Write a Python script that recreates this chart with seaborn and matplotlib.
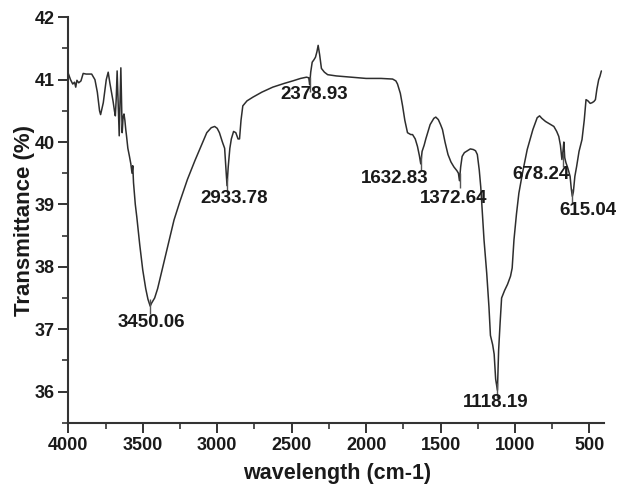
import matplotlib
matplotlib.use("Agg")
import matplotlib.pyplot as plt
from matplotlib.ticker import MultipleLocator
import seaborn as sns
import pandas as pd

# ---- data ----
wavenumber = [
    4000, 3985, 3970, 3958, 3950, 3942, 3930, 3915, 3900, 3880, 3843, 3821, 3805,
    3790, 3783, 3765, 3745, 3732, 3721, 3710, 3699, 3690, 3684, 3678, 3672, 3665,
    3658, 3652, 3647, 3642, 3638, 3632, 3626, 3620, 3614, 3609, 3600, 3590, 3580,
    3572, 3567, 3562, 3550, 3540, 3520, 3500, 3480, 3465, 3450, 3440, 3420, 3400,
    3380, 3350, 3320, 3290, 3250, 3200, 3150, 3100, 3070, 3040, 3017, 3000, 2985,
    2965, 2950, 2942, 2934, 2926, 2915, 2905, 2890, 2875, 2860, 2850, 2840, 2828,
    2800, 2760, 2700, 2627, 2550, 2493, 2440, 2400, 2385, 2379, 2372, 2362, 2350,
    2340, 2330, 2322, 2312, 2300, 2280, 2258, 2200, 2100, 2000, 1900, 1822, 1800,
    1789, 1770, 1755, 1740, 1722, 1700, 1688, 1670, 1655, 1642, 1633, 1624, 1610,
    1599, 1570, 1545, 1532, 1515, 1500, 1487, 1470, 1450, 1430, 1410, 1390, 1380,
    1373, 1365, 1355, 1340, 1320, 1300, 1280, 1265, 1253, 1240, 1230, 1220, 1208,
    1190, 1175, 1165, 1150, 1140, 1130, 1118, 1110, 1100, 1090, 1070, 1050, 1030,
    1019, 1007, 990, 974, 950, 918, 880, 851, 835, 820, 795, 760, 739, 720, 706,
    695, 685, 678, 672, 666, 658, 645, 630, 622, 615, 608, 598, 586, 570, 550,
    535, 523, 510, 495, 483, 470, 460, 450, 438, 430, 420,
]
transmittance = [
    41.10, 41.00, 40.93, 40.96, 40.88, 40.99, 40.95, 40.98, 41.10, 41.09, 41.09, 41.00, 40.80,
    40.50, 40.44, 40.63, 41.00, 41.12, 40.95, 40.80, 40.65, 40.50, 40.42, 40.70, 41.14, 40.60,
    40.10, 40.70, 41.19, 40.60, 40.15, 40.40, 40.45, 40.35, 40.20, 40.10, 39.90, 39.78, 39.65,
    39.50, 39.62, 39.35, 39.00, 38.80, 38.35, 37.95, 37.65, 37.48, 37.37, 37.42, 37.50, 37.65,
    37.85, 38.15, 38.45, 38.75, 39.05, 39.40, 39.70, 39.98, 40.15, 40.23, 40.25, 40.22, 40.15,
    40.00, 39.90, 39.60, 39.30, 39.60, 39.90, 40.05, 40.17, 40.15, 40.05, 40.05, 40.35, 40.58,
    40.66, 40.72, 40.80, 40.88, 40.94, 40.98, 41.02, 41.04, 41.03, 40.92, 41.12, 41.28, 41.32,
    41.36, 41.45, 41.55, 41.40, 41.18, 41.12, 41.08, 41.06, 41.04, 41.02, 41.02, 41.01, 40.98,
    40.93, 40.78, 40.58, 40.35, 40.15, 40.12, 40.12, 40.05, 39.93, 39.78, 39.65, 39.85, 39.95,
    40.05, 40.28, 40.38, 40.40, 40.36, 40.28, 40.20, 40.00, 39.80, 39.68, 39.60, 39.54, 39.50,
    39.38, 39.60, 39.77, 39.83, 39.86, 39.89, 39.88, 39.86, 39.80, 39.55, 39.28, 38.90, 38.43,
    37.90, 37.36, 36.90, 36.75, 36.60, 36.20, 36.02, 36.66, 37.10, 37.50, 37.62, 37.72, 37.85,
    37.98, 38.43, 38.85, 39.18, 39.50, 39.88, 40.20, 40.39, 40.42, 40.38, 40.33, 40.28, 40.25, 40.17, 40.09,
    39.95, 39.72, 39.85, 40.00, 39.75, 39.67, 39.58, 39.45, 39.25, 39.13, 39.20, 39.45, 39.61, 39.85, 40.04,
    40.35, 40.68, 40.66, 40.62, 40.63, 40.65, 40.68, 40.85, 41.00, 41.05, 41.14,
]

peak_labels = ["3450.06", "2933.78", "2378.93", "1632.83", "1372.64", "1118.19", "678.24", "615.04"]
peak_x = [3450.06, 2933.78, 2378.93, 1632.83, 1372.64, 1118.19, 678.24, 615.04]
peak_y = [37.37, 39.30, 40.92, 39.65, 39.38, 36.02, 39.72, 39.13]
label_x = [3441, 2883, 2346, 1806, 1409, 1130, 828, 513]
label_y = [37.11, 39.09, 40.76, 39.41, 39.10, 35.82, 39.48, 38.91]

xlim = (4000, 400)
ylim = (35.5, 42)
x_ticks = [4000, 3500, 3000, 2500, 2000, 1500, 1000, 500]
y_ticks = [36, 37, 38, 39, 40, 41, 42]

# ---- styling ----
sns.set_style("ticks")
plt.rcParams["font.family"] = ["Liberation Sans", "DejaVu Sans"]
plt.rcParams["font.weight"] = "bold"

ink = "#1a1a1a"
line_c = "#2e2e2e"

fig = plt.figure(figsize=(6.18, 4.86), dpi=100)
ax = fig.add_axes([0.1105, 0.1302, 0.8674, 0.8342])

df = pd.DataFrame({"wavenumber": wavenumber, "transmittance": transmittance})
sns.lineplot(data=df, x="wavenumber", y="transmittance", ax=ax,
             color=line_c, linewidth=1.1, sort=False, estimator=None)

# peak markers and labels
ax.vlines(peak_x, [y - 0.12 for y in peak_y], [y + 0.12 for y in peak_y],
          color="#555555", linewidth=1.0)
for txt, lx, ly in zip(peak_labels, label_x, label_y):
    ax.text(lx, ly, txt, ha="center", va="center", fontsize=13.5,
            fontweight="bold", color=ink)

ax.set_xlim(*xlim)
ax.set_ylim(*ylim)
ax.set_xticks(x_ticks)
ax.set_yticks(y_ticks)
ax.xaxis.set_minor_locator(MultipleLocator(250))
ax.yaxis.set_minor_locator(MultipleLocator(0.5))

ax.tick_params(axis="both", which="major", length=7, width=1.4, color="#333333",
               labelsize=13, labelcolor=ink, pad=3, direction="out")
ax.tick_params(axis="both", which="minor", length=4, width=1.2, color="#333333",
               direction="out")
for lab in ax.get_xticklabels() + ax.get_yticklabels():
    lab.set_fontweight("bold")

for s in ["top", "right"]:
    ax.spines[s].set_visible(False)
for s in ["left", "bottom"]:
    ax.spines[s].set_linewidth(1.5)
    ax.spines[s].set_color("#333333")

ax.set_xlabel("wavelength (cm-1)", fontsize=15.5, fontweight="bold", color=ink)
ax.set_ylabel("Transmittance (%)", fontsize=16, fontweight="bold", color=ink)
ax.xaxis.set_label_coords(0.501, -0.100)
ax.yaxis.set_label_coords(-0.062, 0.5)

fig.savefig("out.png", dpi=100, facecolor="white")
